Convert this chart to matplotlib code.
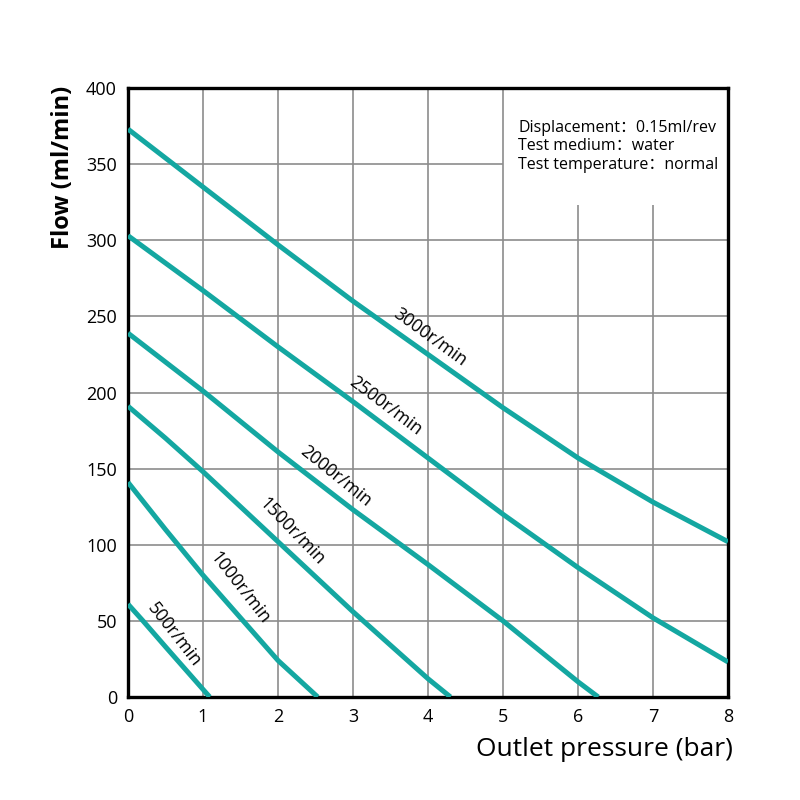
import matplotlib
matplotlib.use("Agg")
import matplotlib.pyplot as plt

plt.rcParams['font.family'] = ['Open Sans', 'Noto Sans CJK SC', 'DejaVu Sans']

# curve readings (pressure in bar, flow in ml/min)
speeds = ["500r/min", "1000r/min", "1500r/min", "2000r/min", "2500r/min", "3000r/min"]
p_500 = [0, 0.2, 0.5, 1, 1.09]
q_500 = [61, 50, 33, 5, 0]
p_1000 = [0, 0.5, 1, 1.5, 2, 2.53]
q_1000 = [141, 110, 80, 52, 24, 0]
p_1500 = [0, 0.5, 1, 2, 3, 4, 4.3]
q_1500 = [191, 170, 148, 102, 56, 12, 0]
p_2000 = [0, 1, 2, 3, 4, 5, 6, 6.27]
q_2000 = [239, 201, 161, 123, 87, 50, 10, 0]
p_2500 = [0, 1, 2, 3, 4, 5, 6, 7, 8]
q_2500 = [303, 267, 230, 194, 157, 120, 85, 52, 23]
p_3000 = [0, 1, 2, 3, 4, 5, 6, 7, 8]
q_3000 = [373, 335, 297, 260, 225, 190, 157, 128, 102]

x_ticks = [0, 1, 2, 3, 4, 5, 6, 7, 8]
y_ticks = [0, 50, 100, 150, 200, 250, 300, 350, 400]

info_lines = ["Displacement：0.15ml/rev", "Test medium：water", "Test temperature：normal"]

teal = "#14a7a1"
grid_c = "#8c8c8c"

fig = plt.figure(figsize=(8, 8), dpi=100)
ax = fig.add_axes([0.16, 0.12875, 0.75, 0.76125])
ax.set_xlim(0, 8)
ax.set_ylim(0, 400)

# grid, leaving the info box corner clear
for x in x_ticks[1:-1]:
    top = 323 if x in (6, 7) else 400
    ax.vlines(x, 0, top, color=grid_c, lw=1.2, zorder=1)
for y in y_ticks[1:-1]:
    right = 5 if y == 350 else 8
    ax.hlines(y, 0, right, color=grid_c, lw=1.2, zorder=1)

curves = [(p_500, q_500), (p_1000, q_1000), (p_1500, q_1500),
          (p_2000, q_2000), (p_2500, q_2500), (p_3000, q_3000)]
for p, q in curves:
    ax.plot(p, q, color=teal, lw=3.6, solid_capstyle='butt',
            solid_joinstyle='round', zorder=3)

# curve labels: (x, y, rotation)
label_pos = [(0.61, 41, -52), (1.49, 72, -52), (2.19, 109, -46),
             (2.77, 145, -39), (3.43, 191, -37), (4.03, 236, -36)]
for name, (lx, ly, rot) in zip(speeds, label_pos):
    ax.text(lx, ly, name, rotation=rot, rotation_mode='anchor',
            ha='center', va='center', fontsize=12.8, color='black', zorder=4)

for i, line in enumerate(info_lines):
    ax.text(0.65, 0.935 - i * 0.0305, line, transform=ax.transAxes,
            fontsize=11.5, ha='left', va='center', color='black',
            family=['Open Sans', 'Noto Sans CJK SC', 'DejaVu Sans'])

ax.set_xticks(x_ticks)
ax.set_yticks(y_ticks)
ax.tick_params(length=0, labelsize=13, pad=8)
for s in ax.spines.values():
    s.set_linewidth(2.4)
    s.set_color('black')

ax.set_xlabel("Outlet pressure (bar)", fontsize=19, fontweight='medium')
ax.xaxis.set_label_coords(1.008, -0.066)
ax.xaxis.label.set_ha('right')
ax.set_ylabel("Flow (ml/min)", fontsize=17, fontweight='bold')
ax.yaxis.set_label_coords(-0.108, 0.87)
ax.yaxis.label.set_va('center')

fig.savefig("out.png", dpi=100, facecolor='white')
